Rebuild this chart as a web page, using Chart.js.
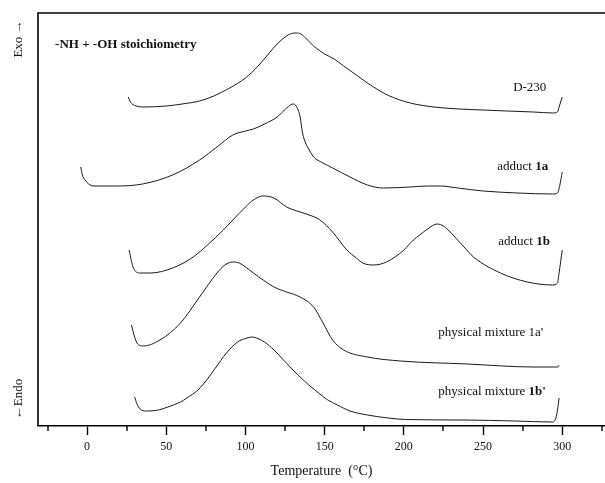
<!DOCTYPE html>
<html><head><meta charset="utf-8">
<script src="https://cdn.jsdelivr.net/npm/chart.js@4/dist/chart.umd.min.js"></script>
<style>html,body{margin:0;padding:0;background:#fff;}canvas{display:block;}</style>
</head><body>
<canvas id="c" width="605" height="483"></canvas>
<script>
// Temperatures (°C) and heat-flow signal (arbitrary units, curves offset vertically)
const d230T = [26,27,28.5,31,35,50,60,71,80,90,100,108,115,120,125,129,132,135,138,143,150,156,162,170,177,185,191,204,219,235,250,265,282,294,297,298,300];
const d230Y = [329,325,322,320,319,320,322,325,330,338,348,360,373,382,389,392.5,393,392,388,380,372,367,360,351,343,335,330,323,319,317,316,315,314,313,314,319,329];

const a1aT = [-4,-3,-1.3,1,3.8,19,35,54,71,82,92,100,105,112,120,126,130,132,134.5,136,138,141,143,149,155,166,177,187,204,215,223,234,250,272,294,297,298.5,300];
const a1aY = [259,251,246,242,240,240,242,251,266,279,291,295,297,302,309,318,322,320,309,293,283,274,269,263,258,249,241,238,239,240,240,238,235,233,232,233,241,254];

const a1bT = [26.5,29,33.5,40,54,67,76,86,92,100,105,111,118,126,134.5,142,147,155,164,170,174,181,189,200,206,210,215,221,225,228,238,244,261,278,294,297,298,300];
const a1bY = [176,159,153,153,158,169,181,196,206,219,226,230,228,219,214,210,206,194,176,168,163,161,164,176,186,191,197,202,200,196,179,169,153,144,141,143,153,176];

const m1aT = [28,30,31.5,35.5,46,59,71,82,87,92,96,105,118,126,134.5,143,149,155,162,177,198,240,282,297,298];
const m1aY = [101,89,83,80,86,103,129,153,161,164,163,153,139,134,129,119,103,86,76,69,65,62,59,59,61];

const m1bT = [30,31.5,33.5,37,45,51,59,63,70,76,81,88,95,101,104,107,112,118,124,130,134.5,140,147,152,158,166,177,190,201,238,270,294,296,297,298];
const m1bY = [29,22,17,15,16,19,24,28,36,47,58,73,84,88,89,88,84,76,66,56,49,41,32,26,21,15,11,8,6.5,6,5,4,8,16,28];

const seriesNames = ['D-230','adduct 1a','adduct 1b',"physical mixture 1a'","physical mixture 1b'"];
const majorTicks = [0,50,100,150,200,250,300];
const minorTicks = [-25,25,75,125,175,225,275,325];

// label text pieces: [text, bold]
const labelParts = [
  [['D-230',false]],
  [['adduct ',false],['1a',true]],
  [['adduct ',false],['1b',true]],
  [['physical mixture 1a\'',false]],
  [['physical mixture ',false],['1b\'',true]]
];
// label anchor positions in data coordinates (T, signal)
const labelPosT = [269,259,259.6,221.7,221.7];
const labelPosY = [338,259,184,93,34];

const SERIF = "'Liberation Serif','Times New Roman',serif";

function pts(T,Y){return T.map((t,i)=>({x:t,y:Y[i]}));}
const series = [[d230T,d230Y],[a1aT,a1aY],[a1bT,a1bY],[m1aT,m1aY],[m1bT,m1bY]];

const decor = {
  id:'decor',
  afterDraw(chart){
    const {ctx, chartArea:a, scales:{x,y}} = chart;
    ctx.save();
    ctx.strokeStyle='#000';
    ctx.lineWidth=1.6;
    ctx.beginPath();
    ctx.moveTo(a.left, a.bottom); ctx.lineTo(a.left, a.top); ctx.lineTo(chart.width, a.top);
    ctx.stroke();
    // minor ticks
    ctx.lineWidth=1.4;
    minorTicks.forEach(v=>{
      const px = Math.round(x.getPixelForValue(v));
      if(px < a.left || px > chart.width) return;
      ctx.beginPath(); ctx.moveTo(px, a.bottom); ctx.lineTo(px, a.bottom+5); ctx.stroke();
    });
    // curve labels
    ctx.fillStyle='#111';
    ctx.textBaseline='middle';
    labelParts.forEach((parts,i)=>{
      let px = x.getPixelForValue(labelPosT[i]);
      const py = y.getPixelForValue(labelPosY[i]);
      parts.forEach(([txt,b])=>{
        ctx.font=(b?'bold ':'')+'13px '+SERIF;
        ctx.fillText(txt,px,py);
        px += ctx.measureText(txt).width;
      });
    });
    // panel title
    ctx.font='bold 13px '+SERIF;
    ctx.fillText('-NH + -OH stoichiometry', x.getPixelForValue(-20.2), y.getPixelForValue(381));
    // Exo / Endo
    ctx.font='13px '+SERIF;
    ctx.textAlign='center';
    ctx.save(); ctx.translate(19,39); ctx.rotate(-Math.PI/2); ctx.fillText('Exo \u2192',0,0); ctx.restore();
    ctx.save(); ctx.translate(19,399); ctx.rotate(-Math.PI/2); ctx.fillText('\u2190Endo',0,0); ctx.restore();
    ctx.restore();
  }
};

new Chart(document.getElementById('c'),{
  type:'line',
  data:{datasets: series.map((s,i)=>({
    label: seriesNames[i],
    data: pts(s[0],s[1]),
    borderColor:'#1a1a1a', borderWidth:1, pointRadius:0, fill:false, cubicInterpolationMode:'monotone'
  }))},
  options:{
    responsive:false, animation:false,
    layout:{padding:{left:38,top:13,right:0,bottom:0}},
    plugins:{legend:{display:false},tooltip:{enabled:false}},
    scales:{
      x:{type:'linear', min:-31, max:327,
        afterBuildTicks(axis){ axis.ticks = majorTicks.map(v=>({value:v})); },
        afterFit(axis){ axis.height = 57; },
        grid:{drawOnChartArea:false, drawTicks:true, tickLength:9, tickWidth:1.4, tickColor:'#000'},
        border:{display:true,color:'#000',width:1.6},
        ticks:{color:'#111', padding:5, maxRotation:0, autoSkip:false, font:{family:SERIF,size:12}},
        title:{display:true, text:'Temperature  (\u00B0C)', color:'#111', font:{family:SERIF,size:14}, padding:{top:0,bottom:3}}
      },
      y:{display:false, min:0, max:413}
    }
  },
  plugins:[decor]
});
</script>
</body></html>
